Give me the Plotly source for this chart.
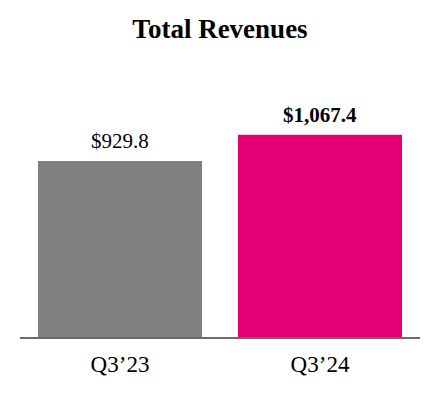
import plotly.graph_objects as go

categories = ["Q3’23", "Q3’24"]
revenues = [929.8, 1067.4]
value_labels = ["$929.8", "<b>$1,067.4</b>"]
bar_colors = ["#808080", "#E20074"]

W, H = 432, 392  # page has an 8px body margin inside the 440x400 window

fig = go.Figure(
    go.Bar(
        x=categories,
        y=revenues,
        marker=dict(color=bar_colors, line=dict(width=0)),
        cliponaxis=False,
        hoverinfo="skip",
    )
)

for cat, val, lab in zip(categories, revenues, value_labels):
    fig.add_annotation(
        x=cat, y=val, text=lab, showarrow=False,
        xanchor="center", yanchor="middle", yshift=20,
        font=dict(family="Liberation Serif", size=21, color="#000000"),
    )

fig.update_layout(
    width=W,
    height=H,
    margin=dict(l=12, r=20, t=72, b=63),
    paper_bgcolor="white",
    plot_bgcolor="white",
    bargap=0.18,
    showlegend=False,
    title=dict(
        text="<b>Total Revenues</b>",
        x=(212) / W,
        xanchor="center",
        y=1 - 21 / H,
        yanchor="middle",
        font=dict(family="Liberation Serif", size=27, color="#000000"),
    ),
    font=dict(family="Liberation Serif", color="#000000"),
)

fig.update_xaxes(
    showline=True,
    linecolor="#6b6b6b",
    linewidth=2,
    showgrid=False,
    ticks="",
    tickfont=dict(family="Liberation Serif", size=23, color="#000000"),
    ticklabelstandoff=5,
)
fig.update_yaxes(
    range=[0, 1357],
    visible=False,
    showgrid=False,
    zeroline=False,
)

fig.write_html("out.html")
